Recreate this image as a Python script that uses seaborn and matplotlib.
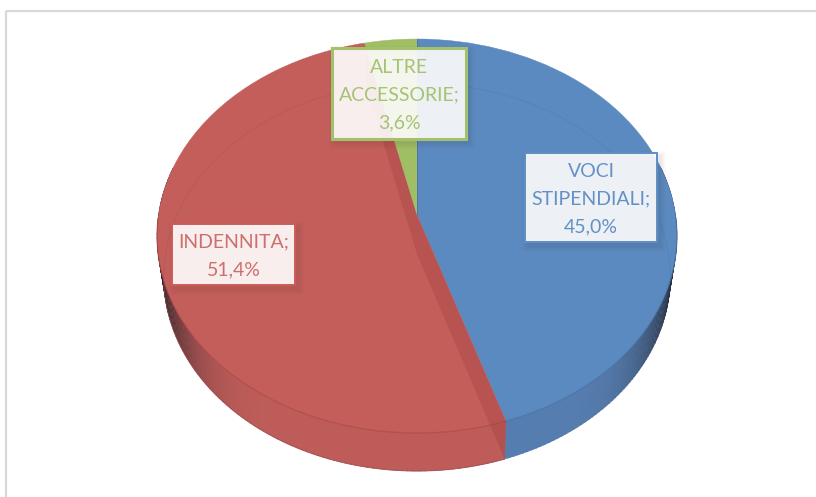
import numpy as np
import matplotlib
matplotlib.use("Agg")
import matplotlib.pyplot as plt
from matplotlib.patches import Rectangle
from matplotlib.transforms import Transform
import seaborn as sns

categories = ["VOCI\nSTIPENDIALI", "INDENNITA", "ALTRE\nACCESSORIE"]
shares = [45.0, 51.4, 3.6]
top_colors = ["#5B8AC1", "#C35E5A", "#A0BE64"]
wall_colors = ["#567DAF", "#BD5C59", "#93AD5E"]
text_colors = ["#6391C6", "#CE6F6B", "#A6C372"]
box_edges = ["#5F8EC4", "#CC5C58", "#A3C16C"]
box_bounds = [(525, 153, 657, 242), (172, 224, 295, 285), (332, 48, 466, 139)]
edge_widths = [1.4, 1.4, 2.2]

sns.set_theme(style="white")
plt.rcParams["font.family"] = ["Lato", "DejaVu Sans"]

CX = 417.0
TOP = dict(apex=215.0, a=258.5, b=194.8, k=0.1067)
BOTTOM = dict(apex=254.0, a=251.5, b=191.3, k=0.1186)


def project(u, v, p):
    w = 1.0 / (1.0 + p["k"] * np.asarray(v))
    return CX + p["a"] * np.asarray(u) * w, p["apex"] - p["b"] * np.asarray(v) * w


class Perspective(Transform):
    input_dims = 2
    output_dims = 2
    is_affine = False

    def __init__(self, params):
        super().__init__()
        self.params = params

    def transform_non_affine(self, values):
        values = np.asarray(values)
        x, y = project(values[:, 0], values[:, 1], self.params)
        return np.column_stack([x, y])


fig = plt.figure(figsize=(8.16, 4.97), dpi=100)
ax = fig.add_axes([0, 0, 1, 1])

edges = np.concatenate([[0], np.cumsum(shares)]) / np.sum(shares) * 2 * np.pi

# side walls, shaded towards the silhouette
for i, base in enumerate(wall_colors):
    thetas = np.linspace(edges[i], edges[i + 1], 160)
    rgb = np.array(matplotlib.colors.to_rgb(base))
    dark = np.array([0.10, 0.10, 0.13])
    for t0, t1 in zip(thetas[:-1], thetas[1:]):
        mid = 0.5 * (t0 + t1)
        if np.cos(mid) > 0.25:
            continue
        s = abs(np.sin(mid))
        f = np.clip((s - 0.5) / 0.5, 0, 1) ** 2.8 * 0.96
        col = rgb * (1 - f) + dark * f
        seg = np.array([t0, t1 + 0.004])
        xt, yt = project(np.sin(seg), np.cos(seg), TOP)
        xb, yb = project(np.sin(seg), np.cos(seg), BOTTOM)
        ax.fill(np.r_[xt, xb[::-1]], np.r_[yt, yb[::-1]], color=col, lw=0.3, zorder=1)

# lower rim line of the red wall
seg = np.linspace(edges[1], edges[2], 200)
xl, yl = project(np.sin(seg), np.cos(seg), BOTTOM)
ax.plot(np.where(np.cos(seg) < 0, xl, np.nan), yl, color="#B04A48", lw=0.7, alpha=0.7, zorder=1.5)

# top face
wedges, _ = ax.pie(shares, colors=top_colors, startangle=90, counterclock=False,
                   wedgeprops=dict(linewidth=0.3))
tr = Perspective(TOP) + ax.transData
for w, c in zip(wedges, top_colors):
    w.set_transform(tr)
    w.set_edgecolor(c)
    w.set_zorder(2)
ax.set_aspect("auto")
ax.set_xlim(0, 816)
ax.set_ylim(497, 0)
ax.set_axis_off()

# bottom rim seen through the top
th = np.linspace(0, 2 * np.pi, 400)
xb, yb = project(np.sin(th), np.cos(th), BOTTOM)
ax.plot(xb, yb, color="#3A4A70", alpha=0.10, lw=0.8, zorder=3)

# front edge of the top face
for i, base in enumerate(top_colors):
    seg = np.linspace(edges[i], edges[i + 1], 160)
    xt, yt = project(np.sin(seg), np.cos(seg), TOP)
    xt2 = np.where(np.cos(seg) < 0, xt, np.nan)
    col = ["#3F6A9E", "#A84040", "#8AA550"][i]
    ax.plot(xt2, yt, color=col, lw=0.9, alpha=0.55, zorder=3)

# radial walls of the central slice
for theta in (edges[1], edges[2]):
    u, v = np.sin(theta), np.cos(theta)
    xo, yo = project(u, v, TOP)
    xl, yl = project(u, v, BOTTOM)
    ax.fill([CX, xo, xl, CX], [TOP["apex"], yo, yl, BOTTOM["apex"]],
            color="#9E3A3A", alpha=0.30, lw=0, zorder=4)

# separator lines
x0, y0 = project(np.sin(0.0), np.cos(0.0), TOP)
ax.plot([CX, x0], [TOP["apex"], y0], color="#4A78AE", lw=0.7, zorder=4)

# data labels
for cat, val, bounds, tc, ec, lw in zip(categories, shares, box_bounds,
                                        text_colors, box_edges, edge_widths):
    l, t, r, b = bounds
    for g in range(6, 0, -1):
        ax.add_patch(Rectangle((l + 3 - g, t + 4 - g), r - l + 2 * g, b - t + 2 * g,
                               facecolor="#402020", alpha=0.014, lw=0, zorder=5))
    ax.add_patch(Rectangle((l, t), r - l, b - t, facecolor="white", alpha=0.9,
                           lw=0, zorder=6))
    ax.add_patch(Rectangle((l, t), r - l, b - t, fill=False, edgecolor=ec,
                           lw=lw, zorder=7))
    label = f"{cat};\n{val:.1f}%".replace(".", ",")
    ax.text((l + r) / 2, (t + b) / 2 + 1.5, label, ha="center", va="center",
            color=tc, fontsize=14, linespacing=1.78, zorder=8)

# outer chart frame, running off the crop on the right and bottom
ax.add_patch(Rectangle((6, 10.5), 900, 600, fill=False, edgecolor="#D9D9D9",
                       lw=1.6, zorder=0))

fig.savefig("out.png", dpi=100)
